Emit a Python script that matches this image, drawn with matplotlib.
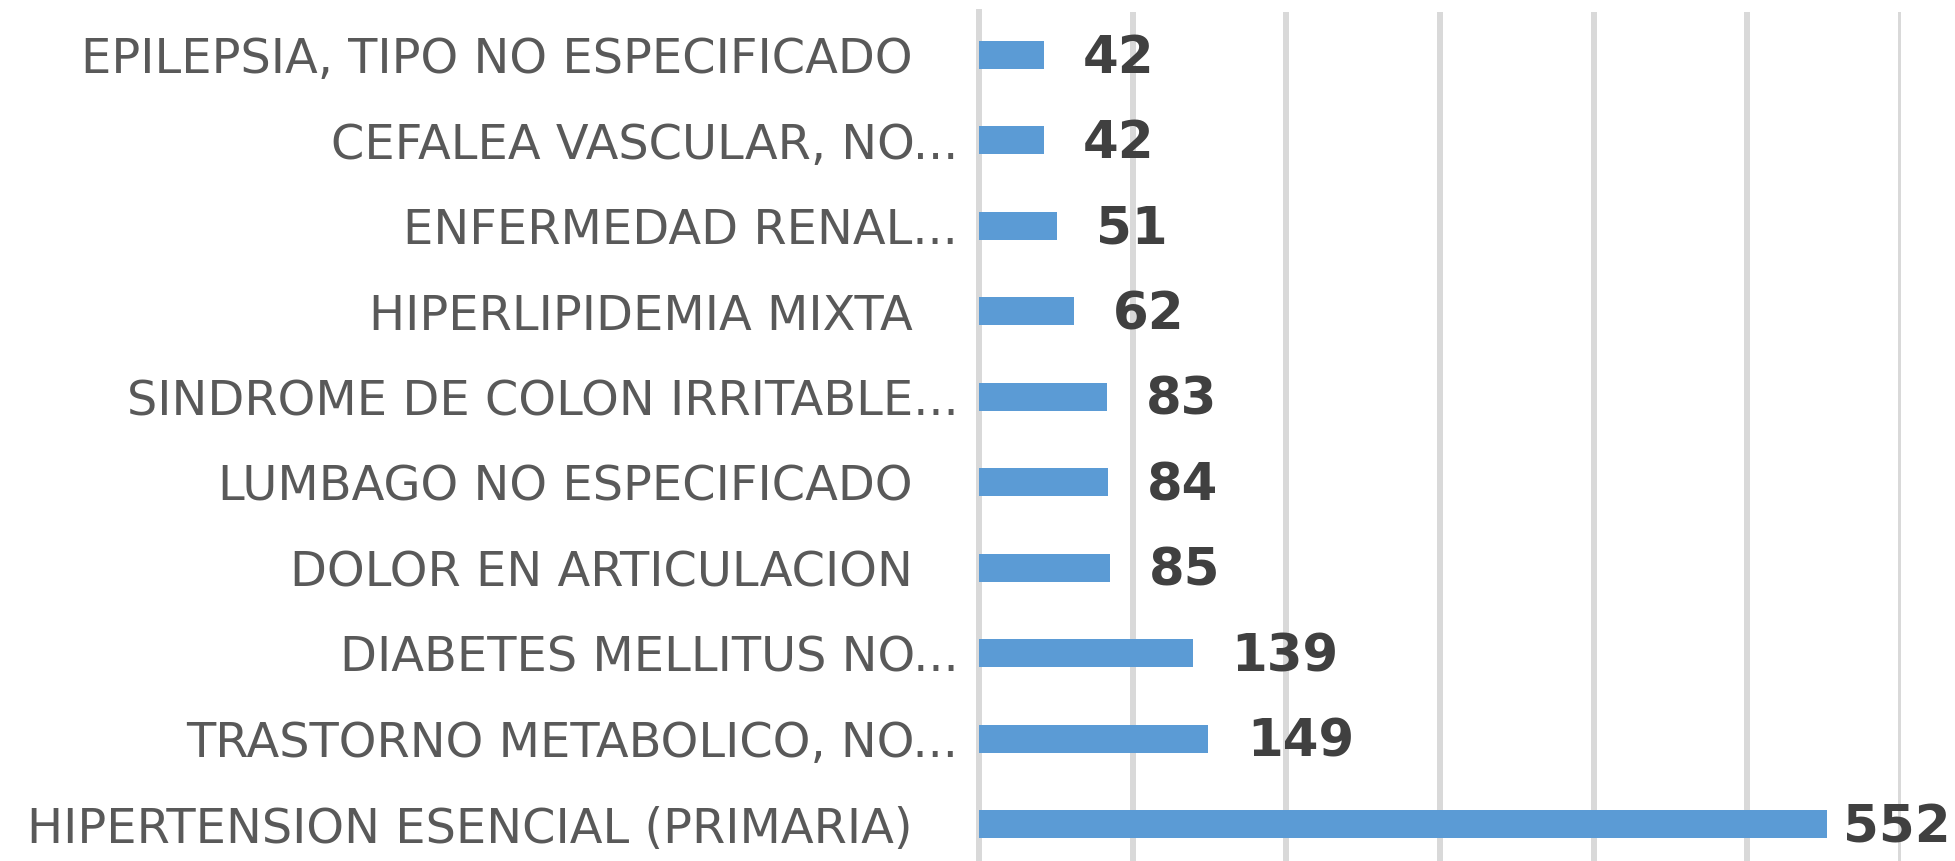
import matplotlib
matplotlib.use("Agg")
import matplotlib.pyplot as plt

# categories from bottom to top (barh draws index 0 at the bottom)
labels = [
    "HIPERTENSION ESENCIAL (PRIMARIA)   ",
    "TRASTORNO METABOLICO, NO...",
    "DIABETES MELLITUS NO...",
    "DOLOR EN ARTICULACION   ",
    "LUMBAGO NO ESPECIFICADO   ",
    "SINDROME DE COLON IRRITABLE...",
    "HIPERLIPIDEMIA MIXTA   ",
    "ENFERMEDAD RENAL...",
    "CEFALEA VASCULAR, NO...",
    "EPILEPSIA, TIPO NO ESPECIFICADO   ",
]
values = [552, 149, 139, 85, 84, 83, 62, 51, 42, 42]
xticks = [0, 100, 200, 300, 400, 500, 600]

BLUE, GRID, LABEL, VALUE = "#5B9BD5", "#D9D9D9", "#595959", "#404040"

fig = plt.figure(figsize=(19.55, 8.61), dpi=100)
ax = fig.add_axes([0.5008, -0.007, 0.4716, 0.993])

pos = list(range(len(values)))
ax.barh(pos, values, height=0.33, color=BLUE, zorder=3)
ax.set_xlim(0, 600)
ax.set_ylim(-0.5, len(values) - 0.5)
ax.set_xticks(xticks)
ax.set_xticklabels([])
ax.tick_params(axis="x", length=0)
ax.grid(axis="x", color=GRID, linewidth=4.3, zorder=0)
for s in ["top", "right", "bottom"]:
    ax.spines[s].set_visible(False)
ax.spines["left"].set_color(GRID)
ax.spines["left"].set_linewidth(4.3)

ax.set_yticks(pos)
ax.set_yticklabels(labels, fontsize=34.5, color=LABEL)
ax.tick_params(axis="y", length=0, pad=15)

# value labels just past the bar ends; the longest one sits tighter
for p, v in zip(pos, values):
    off = 11 if v == max(values) else 28
    ax.annotate(str(v), (v, p), xytext=(off, -3), textcoords="offset points",
                ha="left", va="center", fontsize=37, fontweight="bold",
                color=VALUE)

fig.savefig("out.png", dpi=100)
